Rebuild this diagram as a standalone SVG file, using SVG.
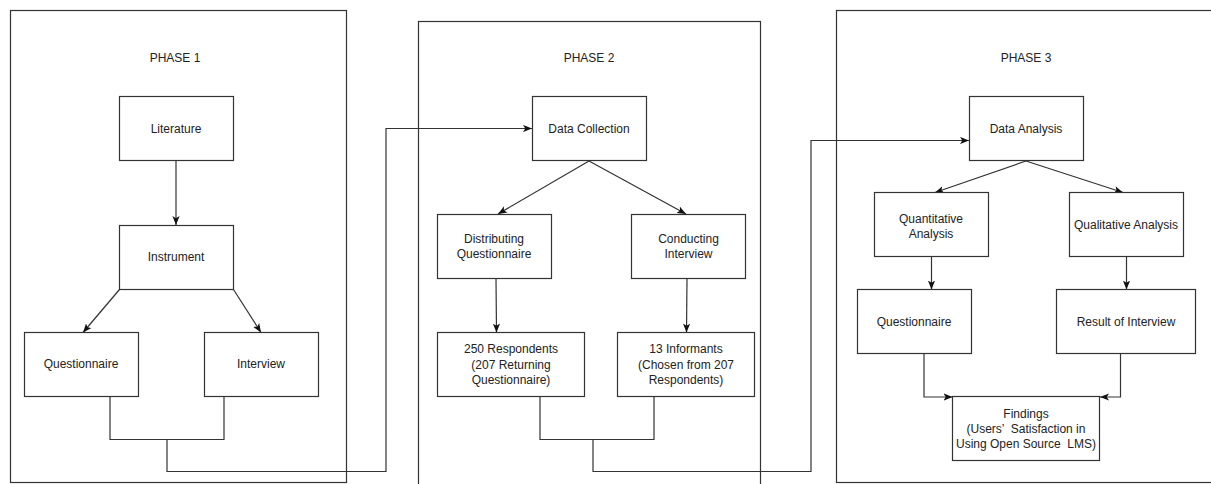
<svg xmlns="http://www.w3.org/2000/svg" width="1211" height="484" viewBox="0 0 1211 484">
<style>
.box{fill:#fff;stroke:#333;stroke-width:1.2}
.phase{fill:none;stroke:#333;stroke-width:1.2}
.t{font-family:"Liberation Sans",Arial,sans-serif;font-size:12px;fill:#222;text-anchor:middle}
.c{fill:none;stroke:#333;stroke-width:1.2}
</style>
<defs>
<marker id="ah" viewBox="0 0 10 8" refX="10" refY="4" markerWidth="9" markerHeight="7.5" markerUnits="userSpaceOnUse" orient="auto">
<path d="M0,0 L10,4 L0,8 L2.5,4 Z" fill="#111"/>
</marker>
</defs>
<rect fill="#fff" x="0" y="0" width="1211" height="484"/>
<g id="phase1">
<rect class="phase" x="10.5" y="10.5" width="336" height="472"/>
<text class="t" x="175" y="62">PHASE 1</text>
</g>
<g id="phase2">
<rect class="phase" x="418.5" y="21.5" width="342" height="480"/>
<text class="t" x="589" y="62">PHASE 2</text>
</g>
<g id="phase3">
<rect class="phase" x="836.5" y="10.5" width="400" height="472"/>
<text class="t" x="1026" y="62">PHASE 3</text>
</g>
<g id="connectors">
<line class="c" x1="176" y1="161" x2="176" y2="225" marker-end="url(#ah)"/>
<line class="c" x1="119.5" y1="289.5" x2="83" y2="332.5" marker-end="url(#ah)"/>
<line class="c" x1="233.5" y1="289.5" x2="261" y2="332.5" marker-end="url(#ah)"/>
<polyline class="c" points="110,397 110,439.5 224,439.5 224,397"/>
<polyline class="c" points="167,439.5 167,471.5 386,471.5 386,128.5 532,128.5" marker-end="url(#ah)"/>
<line class="c" x1="589" y1="161" x2="498" y2="214" marker-end="url(#ah)"/>
<line class="c" x1="589" y1="161" x2="686" y2="214" marker-end="url(#ah)"/>
<line class="c" x1="496" y1="279" x2="496.5" y2="332.5" marker-end="url(#ah)"/>
<line class="c" x1="687" y1="279" x2="686.5" y2="332.5" marker-end="url(#ah)"/>
<polyline class="c" points="540,397 540,439.5 654,439.5 654,397"/>
<polyline class="c" points="593,439.5 593,471.5 811,471.5 811,140.5 969,140.5" marker-end="url(#ah)"/>
<line class="c" x1="1026" y1="161" x2="935" y2="192.5" marker-end="url(#ah)"/>
<line class="c" x1="1026" y1="161" x2="1123" y2="192.5" marker-end="url(#ah)"/>
<line class="c" x1="931.5" y1="257" x2="931.5" y2="289.5" marker-end="url(#ah)"/>
<line class="c" x1="1126.5" y1="257" x2="1126.5" y2="289.5" marker-end="url(#ah)"/>
<polyline class="c" points="924,354 924,397 952.5,397" marker-end="url(#ah)"/>
<polyline class="c" points="1120.5,354 1120.5,397 1100,397" marker-end="url(#ah)"/>
</g>
<g id="literature">
<rect class="box" x="119.5" y="96.5" width="114" height="64"/>
<text class="t" x="176" y="133">Literature</text>
</g>
<g id="instrument">
<rect class="box" x="119.5" y="225.5" width="114" height="64"/>
<text class="t" x="176" y="261">Instrument</text>
</g>
<g id="questionnaire1">
<rect class="box" x="24.5" y="332.5" width="114" height="64"/>
<text class="t" x="81" y="368">Questionnaire</text>
</g>
<g id="interview1">
<rect class="box" x="204.5" y="332.5" width="114" height="64"/>
<text class="t" x="261" y="368">Interview</text>
</g>
<g id="datacollection">
<rect class="box" x="532.5" y="96.5" width="114" height="64"/>
<text class="t" x="589" y="133">Data Collection</text>
</g>
<g id="distributing">
<rect class="box" x="437.5" y="214.5" width="114" height="64"/>
<text class="t" x="494" y="242.5">Distributing</text>
<text class="t" x="494" y="258">Questionnaire</text>
</g>
<g id="conducting">
<rect class="box" x="631.5" y="214.5" width="114" height="64"/>
<text class="t" x="688.5" y="242.5">Conducting</text>
<text class="t" x="688.5" y="258">Interview</text>
</g>
<g id="respondents">
<rect class="box" x="437.5" y="332.5" width="147" height="64"/>
<text class="t" x="511" y="353">250 Respondents</text>
<text class="t" x="511" y="368.5">(207 Returning</text>
<text class="t" x="511" y="384">Questionnaire)</text>
</g>
<g id="informants">
<rect class="box" x="617.5" y="332.5" width="137" height="64"/>
<text class="t" x="686" y="353">13 Informants</text>
<text class="t" x="686" y="368.5">(Chosen from 207</text>
<text class="t" x="686" y="384">Respondents)</text>
</g>
<g id="dataanalysis">
<rect class="box" x="969.5" y="96.5" width="114" height="64"/>
<text class="t" x="1026" y="133">Data Analysis</text>
</g>
<g id="quantitative">
<rect class="box" x="874.5" y="192.5" width="114" height="64"/>
<text class="t" x="931" y="222.5">Quantitative</text>
<text class="t" x="931" y="237.5">Analysis</text>
</g>
<g id="qualitative">
<rect class="box" x="1069.5" y="192.5" width="114" height="64"/>
<text class="t" x="1126" y="229">Qualitative Analysis</text>
</g>
<g id="questionnaire3">
<rect class="box" x="857.5" y="289.5" width="114" height="64"/>
<text class="t" x="914" y="326">Questionnaire</text>
</g>
<g id="resultinterview">
<rect class="box" x="1056.5" y="289.5" width="139" height="64"/>
<text class="t" x="1126" y="326">Result of Interview</text>
</g>
<g id="findings">
<rect class="box" x="952.5" y="396.5" width="147" height="64"/>
<text class="t" x="1026" y="417.5">Findings</text>
<text class="t" x="1026" y="432.5" xml:space="preserve">(Users’  Satisfaction in</text>
<text class="t" x="1026" y="448" xml:space="preserve">Using Open Source  LMS)</text>
</g>
</svg>
